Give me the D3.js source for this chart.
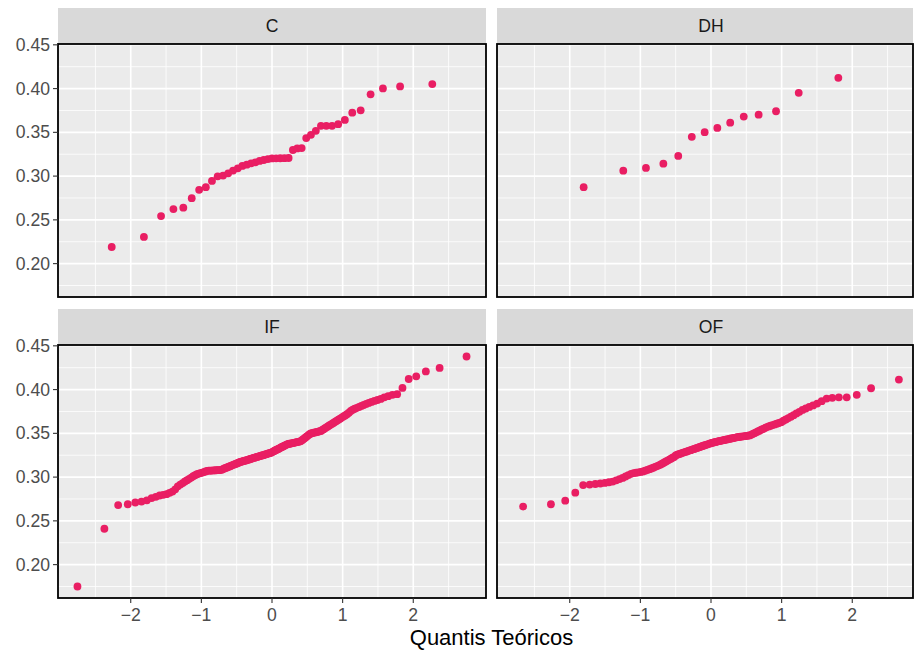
<!DOCTYPE html>
<html><head><meta charset="utf-8">
<script src="https://cdn.jsdelivr.net/npm/d3@7"></script>
<style>html,body{margin:0;padding:0;background:#fff;}svg{display:block;font-family:"Liberation Sans",Arial,Helvetica,sans-serif;}</style>
</head><body>
<svg id="chart" width="914" height="652"></svg>
<script>
// ---- data (sample values, sorted) ----
const categories = ["C", "DH", "IF", "OF"];
const valuesC = [0.219,0.2305,0.2543,0.2623,0.2639,0.2748,0.2843,0.2873,0.2945,0.2998,0.3006,0.3032,0.3063,0.3089,0.3116,0.3131,0.3146,0.3157,0.3173,0.3184,0.3195,0.3202,0.3203,0.3204,0.3205,0.3207,0.3298,0.3316,0.332,0.3434,0.3472,0.3517,0.3574,0.3574,0.3574,0.3593,0.3642,0.3725,0.3752,0.3934,0.4002,0.4025,0.4051];
const valuesDH = [0.2873,0.3062,0.3093,0.3142,0.323,0.3449,0.3502,0.3551,0.3611,0.368,0.3702,0.3741,0.3952,0.4123];
const valuesIF = [0.175,0.241,0.268,0.269,0.271,0.272,0.2735,0.276,0.2775,0.279,
0.2798,0.2805,0.282,0.2835,0.286,0.2895,0.2915,0.2932,0.295,0.2965,
0.298,0.2995,0.301,0.3022,0.3033,0.304,0.3046,0.3052,0.3058,0.3065,
0.3072,0.3073,0.3074,0.3075,0.3076,0.3077,0.3078,0.3079,0.308,0.308,
0.3085,0.3092,0.3098,0.3104,0.311,0.3116,0.3122,0.3128,0.3134,0.314,
0.3145,0.315,0.3156,0.3162,0.3167,0.3173,0.3176,0.318,0.3184,0.3187,
0.319,0.3194,0.3198,0.3202,0.3207,0.3211,0.3215,0.3219,0.3222,0.3226,
0.323,0.3233,0.3237,0.324,0.3244,0.3248,0.3251,0.3255,0.3258,0.3262,
0.3266,0.327,0.3273,0.3277,0.328,0.3289,0.3295,0.3301,0.3307,0.3313,
0.3319,0.3325,0.3332,0.3338,0.3344,0.335,0.3356,0.3363,0.3369,0.3375,
0.3378,0.3381,0.3383,0.3386,0.3389,0.3392,0.3394,0.3397,0.34,0.3403,
0.3406,0.3409,0.3417,0.3427,0.3437,0.3448,0.3458,0.3469,0.348,0.3491,
0.3499,0.3502,0.3506,0.351,0.3512,0.3516,0.352,0.3524,0.3528,0.3539,
0.3548,0.3559,0.3569,0.3579,0.359,0.36,0.3611,0.3622,0.3633,0.3644,
0.3656,0.3668,0.368,0.3693,0.3705,0.3718,0.3735,0.3756,0.377,0.3781,
0.3791,0.3802,0.3813,0.3824,0.3836,0.3848,0.3859,0.387,0.3881,0.3893,
0.3912,0.3925,0.394,0.3948,0.4019,0.4121,0.4151,0.4208,0.4247,0.4378];
const valuesOF = [0.2663,0.269,0.2731,0.2822,0.2909,0.2915,0.2921,0.2927,0.2933,0.2941,
0.2949,0.2963,0.2977,0.2991,0.3007,0.3023,0.3037,0.3046,0.305,0.3055,
0.3059,0.3065,0.3073,0.3082,0.309,0.3098,0.3107,0.3117,0.3126,0.3135,
0.3145,0.3156,0.3167,0.3178,0.3189,0.32,0.321,0.3221,0.3231,0.3248,
0.3256,0.3262,0.3268,0.3274,0.328,0.3286,0.3291,0.3297,0.3303,0.3308,
0.3314,0.3319,0.3325,0.3331,0.3336,0.3342,0.3347,0.3353,0.3358,0.3364,
0.3369,0.3375,0.338,0.3385,0.339,0.3394,0.3398,0.3402,0.3406,0.341,
0.3413,0.3417,0.342,0.3424,0.3427,0.3431,0.3434,0.3438,0.3441,0.3445,
0.3449,0.3452,0.3456,0.3458,0.3461,0.3463,0.3466,0.3468,0.3471,0.3473,
0.3476,0.3483,0.3493,0.3502,0.3512,0.3521,0.3531,0.3541,0.3551,0.3561,
0.3572,0.3579,0.3587,0.3594,0.3602,0.361,0.3618,0.3628,0.3644,0.3659,
0.3674,0.369,0.3708,0.3727,0.3746,0.3767,0.3784,0.3802,0.3819,0.384,
0.3868,0.3897,0.3906,0.3912,0.3912,0.394,0.4015,0.4114];
const xTickValues = [-2, -1, 0, 1, 2];
const xTickLabels = ["\u22122", "\u22121", "0", "1", "2"];
const yTickValues = [0.20, 0.25, 0.30, 0.35, 0.40, 0.45];
const yTickLabels = ["0.20", "0.25", "0.30", "0.35", "0.40", "0.45"];
const xTitle = "Quantis Teóricos";

// ---- stat_qq: theoretical normal quantiles of ppoints(n) ----
function qnorm(p){
  const a=[-3.969683028665376e+01,2.209460984245205e+02,-2.759285104469687e+02,1.383577518672690e+02,-3.066479806614716e+01,2.506628277459239e+00];
  const b=[-5.447609879822406e+01,1.615858368580409e+02,-1.556989798598866e+02,6.680131188771972e+01,-1.328068155288572e+01];
  const c=[-7.784894002430293e-03,-3.223964580411365e-01,-2.400758277161838e+00,-2.549732539343734e+00,4.374664141464968e+00,2.938163982698783e+00];
  const d=[7.784695709041462e-03,3.224671290700398e-01,2.445134137142996e+00,3.754408661907416e+00];
  const pl=0.02425, ph=1-pl; let q,r;
  if(p<pl){q=Math.sqrt(-2*Math.log(p));return (((((c[0]*q+c[1])*q+c[2])*q+c[3])*q+c[4])*q+c[5])/((((d[0]*q+d[1])*q+d[2])*q+d[3])*q+1);}
  if(p<=ph){q=p-0.5;r=q*q;return (((((a[0]*r+a[1])*r+a[2])*r+a[3])*r+a[4])*r+a[5])*q/(((((b[0]*r+b[1])*r+b[2])*r+b[3])*r+b[4])*r+1);}
  q=Math.sqrt(-2*Math.log(1-p));return -(((((c[0]*q+c[1])*q+c[2])*q+c[3])*q+c[4])*q+c[5])/((((d[0]*q+d[1])*q+d[2])*q+d[3])*q+1);
}
function qqPoints(vals){
  const s = vals.slice().sort(d3.ascending), n = s.length, a = n <= 10 ? 3/8 : 0.5;
  return s.map((v,i)=>({x: qnorm((i+1-a)/(n+1-2*a)), y: v}));
}
const series = [valuesC, valuesDH, valuesIF, valuesOF].map(qqPoints);

// ---- layout ----
const W = 914, H = 652;
const colX = [58, 497], rowY = [44, 345];
const panelW = 428, panelH = 253, stripH = 36;
const all = series.flat();
const xe = d3.extent(all, d=>d.x), ye = d3.extent(all, d=>d.y);
const xPad = (xe[1]-xe[0])*0.05, yPad = (ye[1]-ye[0])*0.05;
const xDom = [xe[0]-xPad, xe[1]+xPad], yDom = [ye[0]-yPad, ye[1]+yPad];

const svg = d3.select("#chart");
const defs = svg.append("defs");
const xMinor = [-2.5,-1.5,-0.5,0.5,1.5,2.5];
const yMinor = [0.175,0.225,0.275,0.325,0.375,0.425];

categories.forEach((cat, k) => {
  const col = k % 2, row = Math.floor(k / 2);
  const px = colX[col], py = rowY[row];
  const visW = Math.min(panelW, W - 1 - px);
  const x = d3.scaleLinear().domain(xDom).range([px, px + panelW]);
  const y = d3.scaleLinear().domain(yDom).range([py + panelH, py]);
  const g = svg.append("g");
  defs.append("clipPath").attr("id", "clip"+k).append("rect")
    .attr("x", px).attr("y", py).attr("width", visW).attr("height", panelH);
  // strip
  g.append("rect").attr("x", px).attr("y", py - stripH).attr("width", visW).attr("height", stripH).attr("fill", "#D9D9D9");
  g.append("text").attr("x", px + panelW/2).attr("y", py - stripH/2).attr("text-anchor","middle")
    .attr("dominant-baseline","central").attr("font-size", 17.6).attr("fill","#1A1A1A").text(cat);
  // panel bg
  const pg = g.append("g").attr("clip-path", "url(#clip"+k+")");
  pg.append("rect").attr("x", px).attr("y", py).attr("width", panelW).attr("height", panelH).attr("fill", "#EBEBEB");
  pg.selectAll(".xm").data(xMinor).join("line").attr("x1", d=>x(d)).attr("x2", d=>x(d)).attr("y1", py).attr("y2", py+panelH).attr("stroke","#fff").attr("stroke-width",0.8);
  pg.selectAll(".ym").data(yMinor).join("line").attr("y1", d=>y(d)).attr("y2", d=>y(d)).attr("x1", px).attr("x2", px+panelW).attr("stroke","#fff").attr("stroke-width",0.8);
  pg.selectAll(".xM").data(xTickValues).join("line").attr("x1", d=>x(d)).attr("x2", d=>x(d)).attr("y1", py).attr("y2", py+panelH).attr("stroke","#fff").attr("stroke-width",1.6);
  pg.selectAll(".yM").data(yTickValues).join("line").attr("y1", d=>y(d)).attr("y2", d=>y(d)).attr("x1", px).attr("x2", px+panelW).attr("stroke","#fff").attr("stroke-width",1.6);
  // points
  pg.selectAll("circle").data(series[k]).join("circle")
    .attr("cx", d=>x(d.x)).attr("cy", d=>y(d.y)).attr("r", 3.9).attr("fill", "#E91E63");
  // border
  g.append("rect").attr("x", px).attr("y", py).attr("width", visW).attr("height", panelH)
    .attr("fill","none").attr("stroke","#000").attr("stroke-width",1.8);
  // y axis on left column
  if (col === 0) {
    yTickValues.forEach((v,i) => {
      g.append("line").attr("x1", px-5).attr("x2", px).attr("y1", y(v)).attr("y2", y(v)).attr("stroke","#333").attr("stroke-width",1.1);
      g.append("text").attr("x", px-8).attr("y", y(v)).attr("text-anchor","end").attr("dominant-baseline","central")
        .attr("font-size",17.6).attr("fill","#4D4D4D").text(yTickLabels[i]);
    });
  }
  // x axis on bottom row
  if (row === 1) {
    xTickValues.forEach((v,i) => {
      g.append("line").attr("x1", x(v)).attr("x2", x(v)).attr("y1", py+panelH).attr("y2", py+panelH+5).attr("stroke","#333").attr("stroke-width",1.1);
      g.append("text").attr("x", x(v)).attr("y", py+panelH+23).attr("text-anchor","middle")
        .attr("font-size",17.6).attr("fill","#4D4D4D").text(xTickLabels[i]);
    });
  }
});
svg.append("text").attr("x", (colX[0] + colX[1] + panelW)/2).attr("y", 645).attr("text-anchor","middle")
  .attr("font-size", 22).attr("fill","#000").text(xTitle);
</script>
</body></html>
